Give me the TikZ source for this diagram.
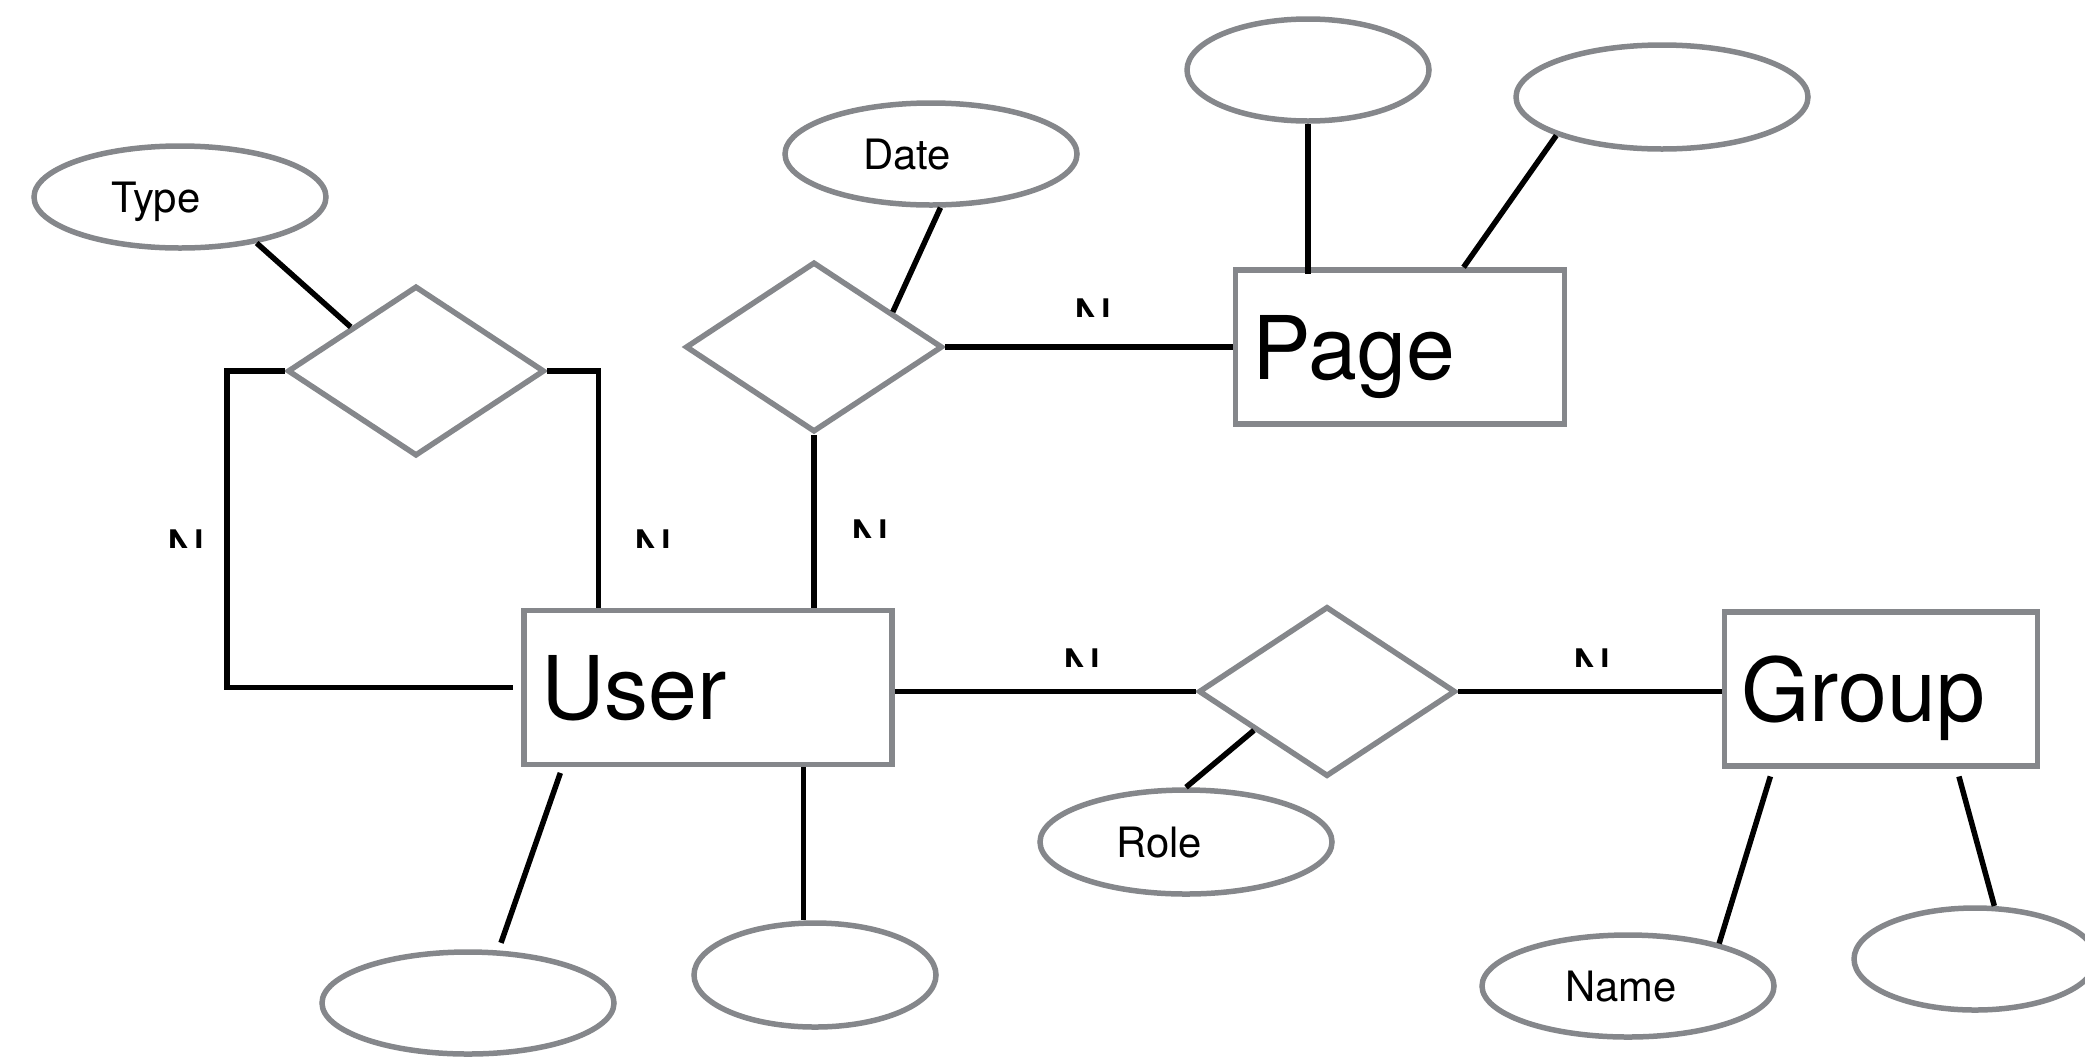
\documentclass[tikz,border=0pt]{standalone}
\usepackage{fontspec}
\setmainfont{TeX Gyre Heros}
\usetikzlibrary{shapes.geometric,calc}
\definecolor{shapegray}{RGB}{133,135,139}

\tikzset{
  entity/.style={draw=shapegray, line width=0.055cm, rectangle, inner xsep=0.17cm, inner ysep=0pt,
    align=left, text depth=0pt, minimum height=1.54cm, font=\fontsize{25}{30}\selectfont},
  attribute/.style={draw=shapegray, line width=0.055cm, ellipse, inner sep=0pt,
    minimum width=2.92cm, minimum height=1.02cm},
  relation/.style={draw=shapegray, line width=0.055cm, diamond, inner sep=0pt,
    minimum width=2.57cm, minimum height=1.70cm},
  attrtext/.style={text depth=0pt, font=\fontsize{11.9}{14}\selectfont},
  link/.style={line width=0.055cm, black},
  card/.style={anchor=north, inner sep=0pt, font=\fontsize{15.5}{18}\selectfont}
}

\begin{document}
\begin{tikzpicture}
  \useasboundingbox (0,0) rectangle (20.85,10.58);
  % entities
  \node[entity, text width=3.34cm] (user) at (7.08,3.705) {User};
  \node[entity, text width=2.95cm] (page) at (14.00,7.11) {Page};
  \node[entity, text width=2.79cm] (group) at (18.81,3.69) {Group};
  % relations
  \node[relation] (typerel) at (4.16,6.87) {};
  \node[relation] (daterel) at (8.14,7.11) {};
  \node[relation] (rolerel) at (13.27,3.665) {};
  % attributes
  \node[attribute, label={[attrtext, xshift=-0.24cm]center:Type}] (typeattr) at (1.80,8.61) {};
  \node[attribute, label={[attrtext, xshift=-0.24cm]center:Date}] (dateattr) at (9.31,9.04) {};
  \node[attribute, minimum width=2.42cm] (pageattra) at (13.08,9.88) {};
  \node[attribute, minimum height=1.04cm] (pageattrb) at (16.62,9.61) {};
  \node[attribute] (userattra) at (4.68,0.55) {};
  \node[attribute, minimum width=2.42cm, minimum height=1.04cm] (userattrb) at (8.15,0.83) {};
  \node[attribute, minimum height=1.04cm, label={[attrtext, xshift=-0.27cm]center:Role}] (roleattr) at (11.86,2.16) {};
  \node[attribute, label={[attrtext, xshift=-0.07cm]center:Name}] (nameattr) at (16.28,0.72) {};
  \node[attribute, minimum width=2.42cm] (groupattrb) at (19.75,0.99) {};
  % user - user (type)
  \draw[link] (typeattr.-31) -- (typerel.146);
  \draw[link, shorten >=0.08cm] (typerel.west) -- ++(-0.58,0) |- (user.west);
  \draw[link] (typerel.east) -| ($(user.north west)!0.207!(user.north east)$);
  % user - page (date)
  \draw[link] (dateattr.-80) -- (daterel.24);
  \draw[link] (daterel.south) -- (daterel.south |- user.north);
  \draw[link] (daterel.east) -- (page.west);
  % page attributes
  \draw[link] (pageattra.south) -- ([yshift=-0.07cm]pageattra.south |- page.north);
  \draw[link] (pageattrb.200) -- ($(page.north west)!0.69!(page.north east)$);
  % user attributes
  \draw[link, shorten <=0.06cm, shorten >=0.08cm] ($(user.south west)!0.11!(user.south east)$) -- (userattra.60);
  \coordinate (userlink) at ($(user.south west)!0.755!(user.south east)$);
  \draw[link] (userlink) -- (userlink |- userattrb.north);
  % user - group (role)
  \draw[link] (rolerel.west -| user.east) -- (rolerel.west);
  \draw[link] (rolerel.208) -- (roleattr.north);
  \draw[link] (rolerel.east) -- (rolerel.east -| group.west);
  % group attributes
  \draw[link, shorten <=0.08cm] ($(group.south west)!0.16!(group.south east)$) -- (nameattr.25);
  \draw[link, shorten <=0.08cm] ($(group.south west)!0.738!(group.south east)$) -- (groupattrb.70);
  % cardinalities (only upper part printed)
  \foreach \name/\x/\y in {cardtypea/1.86/5.29, cardtypeb/6.53/5.29, carddateu/8.70/5.39,
      carddatep/10.93/7.60, cardroleu/10.82/4.10, cardroleg/15.92/4.10} {
    \begin{scope}
      \clip (\x-0.3,\y-0.185) rectangle (\x+0.3,\y+0.05);
      \node[card] (\name) at (\x,\y) {N};
    \end{scope}
  }
\end{tikzpicture}
\end{document}
